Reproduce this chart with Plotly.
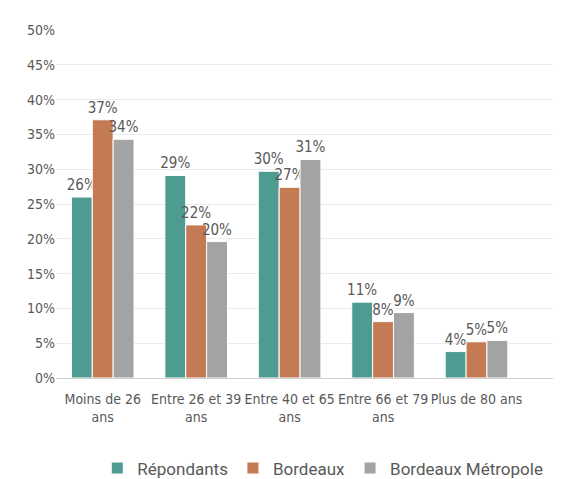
import plotly.graph_objects as go

categories = ["Moins de 26<br>ans", "Entre 26 et 39<br>ans", "Entre 40 et 65<br>ans", "Entre 66 et 79<br>ans", "Plus de 80 ans"]
repondants = [0.260, 0.291, 0.297, 0.109, 0.038]
bordeaux = [0.371, 0.220, 0.274, 0.081, 0.052]
metropole = [0.343, 0.196, 0.314, 0.094, 0.054]
y_ticks = [0, 0.05, 0.10, 0.15, 0.20, 0.25, 0.30, 0.35, 0.40, 0.45, 0.50]

FONT = "DejaVu Sans Condensed, Liberation Sans Narrow, sans-serif"
TXT = "#595959"

fig = go.Figure()
for name, vals, col in [("Répondants", repondants, "#4E9C91"),
                        ("Bordeaux", bordeaux, "#C47A52"),
                        ("Bordeaux Métropole", metropole, "#A3A3A3")]:
    fig.add_trace(go.Bar(
        x=categories, y=vals, name=name,
        marker=dict(color=col, line=dict(color="white", width=1)),
        texttemplate="%{y:.0%}", textposition="outside", cliponaxis=False,
        textfont=dict(family=FONT, size=15, color=TXT),
    ))

fig.update_layout(
    width=561, height=479,
    margin=dict(l=48, r=0, t=22, b=103),
    paper_bgcolor="white", plot_bgcolor="white",
    barmode="group", bargap=0.33, bargroupgap=0,
    font=dict(family=FONT, color=TXT, size=14),
    showlegend=True,
    legend=dict(orientation="h", x=0.52, xanchor="center", y=-0.26, yanchor="middle",
                font=dict(family="Roboto, sans-serif", size=17, color=TXT), itemwidth=30,
                traceorder="normal"),
    xaxis=dict(range=[-0.5, 4.99], showgrid=False, showline=True, linecolor="#D0D0D0",
               linewidth=1, ticks="", ticklabelstandoff=8,
               tickfont=dict(family=FONT, size=14, color=TXT)),
    yaxis=dict(range=[0, 0.5], tickvals=y_ticks, tickformat=".0%", showgrid=True,
               gridcolor="#EBEBEB", gridwidth=1, zeroline=False, showline=False,
               ticks="", tickfont=dict(family=FONT, size=14, color=TXT)),
    uniformtext=dict(minsize=15, mode="show"),
)

fig.write_html("out.html")
